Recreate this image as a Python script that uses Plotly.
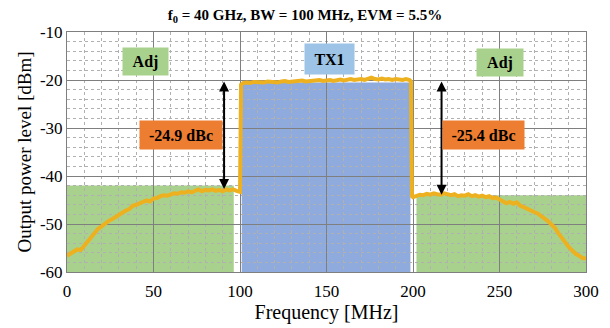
import plotly.graph_objects as go

# ---------------- data ----------------
freq_left = [0, 2, 4, 6, 8, 10, 12, 14, 16, 18, 20, 22, 24, 26, 28, 30, 32, 34, 36, 38, 40,
             42, 44, 46, 48, 50, 52, 54, 56, 58, 60, 62, 64, 66, 68, 70, 72, 74, 76, 78, 80,
             82, 84, 86, 88, 90, 92, 94, 96, 98, 100]
pow_left = [-56.6, -56.2, -55.9, -55.3, -55.4, -54.5, -53.5, -52.6, -51.9, -51.0, -50.5,
            -49.9, -49.4, -49.0, -48.5, -48.1, -47.7, -47.2, -46.9, -46.2, -46.0,
            -45.6, -45.4, -45.1, -45.3, -44.7, -44.6, -44.2, -44.0, -44.1, -43.8,
            -43.6, -43.7, -43.4, -43.5, -43.2, -43.4, -43.1, -42.8, -43.2, -42.9,
            -43.0, -42.8, -43.1, -42.9, -43.2, -42.8, -43.0, -42.8, -43.1, -43.3]
freq_tx = [100.6, 101.5, 102, 104, 106, 108, 110, 112, 114, 116, 118, 120, 122, 124, 126, 128,
           130, 132, 134, 136, 138, 140, 142, 144, 146, 148, 150, 152, 154, 156, 158,
           160, 162, 164, 166, 168, 170, 172, 174, 176, 178, 180, 182, 184, 186, 188,
           190, 192, 194, 196, 198, 198.8]
pow_tx = [-21.0, -20.6, -20.6, -20.5, -20.6, -20.4, -20.5, -20.4, -20.5, -20.3, -20.4, -20.3,
          -20.5, -20.3, -20.2, -20.4, -20.3, -20.2, -20.3, -20.1, -20.3, -20.2, -20.1,
          -20.2, -20.0, -20.2, -20.1, -20.0, -20.2, -20.0, -19.9, -20.1, -20.0, -19.8,
          -20.0, -19.9, -19.8, -20.0, -19.7, -19.5, -19.8, -19.9, -19.7, -19.9, -19.8,
          -20.0, -19.8, -19.9, -20.0, -19.8, -20.0, -20.3]
freq_right = [199.4, 200, 202, 204, 206, 208, 210, 212, 214, 216, 218, 220, 222, 224, 226, 228,
              230, 232, 234, 236, 238, 240, 242, 244, 246, 248, 250, 252, 254, 256, 258,
              260, 262, 264, 266, 268, 270, 272, 274, 276, 278, 280, 282, 284, 286, 288,
              290, 292, 294, 296, 298, 300]
pow_right = [-44.2, -44.4, -44.2, -43.9, -44.0, -43.7, -43.9, -43.6, -43.8, -43.9, -43.6,
             -43.9, -44.0, -43.8, -44.2, -44.0, -44.1, -43.8, -44.2, -44.0, -44.3, -44.1,
             -44.4, -44.2, -44.6, -44.5, -44.9, -45.3, -45.7, -45.4, -45.8, -45.5, -46.2,
             -46.5, -46.9, -47.1, -47.5, -47.8, -48.3, -48.8, -49.4, -50.1, -50.8, -51.9,
             -52.9, -54.0, -54.8, -55.5, -56.2, -56.6, -57.1, -57.2]

x_ticks = [0, 50, 100, 150, 200, 250, 300]
x_tick_labels = ["0", "50", "100", "150", "200", "250", "300"]
y_ticks = [-60, -50, -40, -30, -20, -10]
y_tick_labels = ["-60", "-50", "-40", "-30", "-20", "-10"]

# shaded bands: [x0, x1, top]
band_adj_left = [0, 96.4, -42.0]
band_tx = [101.0, 198.5, -20.5]
band_adj_right = [202.0, 300, -44.0]
y_floor = -60

# ACLR markers: (freq, top, bottom, label)
aclr_left = [90.8, -20.0, -42.7, "-24.9 dBc"]
aclr_right = [216.5, -20.0, -43.9, "-25.4 dBc"]

freq = freq_left + freq_tx + freq_right
power = pow_left + pow_tx + pow_right

# ---------------- figure ----------------
serif = "Liberation Serif, Times New Roman, serif"
fig = go.Figure()

for (x0, x1, top), col in [(band_adj_left, "#a9d18e"), (band_tx, "#8faadc"),
                           (band_adj_right, "#a9d18e")]:
    fig.add_shape(type="rect", x0=x0, x1=x1, y0=y_floor, y1=top, xref="x", yref="y",
                  fillcolor=col, line_width=0, layer="below")

fig.add_trace(go.Scatter(x=freq, y=power, mode="lines",
                         line=dict(color="#edb120", width=4), showlegend=False))

for f, top, bot, lab in [aclr_left, aclr_right]:
    fig.add_annotation(x=f, y=bot, ax=f, ay=top, xref="x", yref="y", axref="x", ayref="y",
                       text="", showarrow=True, arrowhead=2, arrowsize=1.0, arrowwidth=2,
                       arrowside="end+start", arrowcolor="black", startarrowhead=2)

def box(x, y, text, bg, w, h):
    fig.add_annotation(x=x, y=y, xref="paper", yref="paper", text="<b>%s</b>" % text,
                       xanchor="center", yanchor="middle",
                       showarrow=False, bgcolor=bg, width=w, height=h,
                       font=dict(family=serif, size=16, color="black"))

# paper-coordinate helpers (plot area 67..586 x, 32..272 y)
def px(xp):
    return (xp - 67) / 519.0

def py(yp):
    return (272 - yp) / 240.0

box(px(145.5), py(61.5), "Adj", "#a9d18e", 43, 25)
box(px(500), py(62), "Adj", "#a9d18e", 44, 25)
box(px(329.5), py(59), "TX1", "#9dc3e6", 47, 28)
box(px(181), py(135), aclr_left[3], "#ed7d31", 80, 26)
box(px(483.5), py(135), aclr_right[3], "#ed7d31", 79, 26)

fig.update_layout(
    width=610, height=328,
    margin=dict(l=67, r=24, t=32, b=56),
    paper_bgcolor="white", plot_bgcolor="white",
    title=dict(text="<b>f<sub>0</sub> = 40 GHz, BW = 100 MHz, EVM = 5.5%</b>",
               x=0.5, xanchor="center", y=0.955, yanchor="middle",
               font=dict(family=serif, size=15, color="black")),
    font=dict(family=serif, color="black"),
)
fig.update_xaxes(range=[0, 300], tickmode="array", tickvals=x_ticks, ticktext=x_tick_labels,
                 automargin=False,
                 showgrid=True, gridcolor="#7f7f7f",
                 gridwidth=1, showline=True, mirror=True, linecolor="#7f7f7f", linewidth=1,
                 zeroline=False, ticks="", tickfont=dict(family=serif, size=17),
                 ticklabelstandoff=4,
                 title=dict(text="Frequency [MHz]", font=dict(family=serif, size=20), standoff=4),
                 minor=dict(tickmode="linear", tick0=0, dtick=10, showgrid=True, griddash="dot",
                            gridcolor="#b0b0b0", gridwidth=1))
fig.update_yaxes(range=[-60, -10], tickmode="array", tickvals=y_ticks, ticktext=y_tick_labels,
                 automargin=False,
                 showgrid=True, gridcolor="#7f7f7f",
                 gridwidth=1, showline=True, mirror=True, linecolor="#7f7f7f", linewidth=1,
                 zeroline=False, ticks="", tickfont=dict(family=serif, size=17),
                 title=dict(text="Output power level [dBm]", font=dict(family=serif, size=19),
                            standoff=3),
                 minor=dict(tickmode="linear", tick0=-60, dtick=2, showgrid=True, griddash="dot",
                            gridcolor="#b0b0b0", gridwidth=1))

fig.write_html("out.html")
